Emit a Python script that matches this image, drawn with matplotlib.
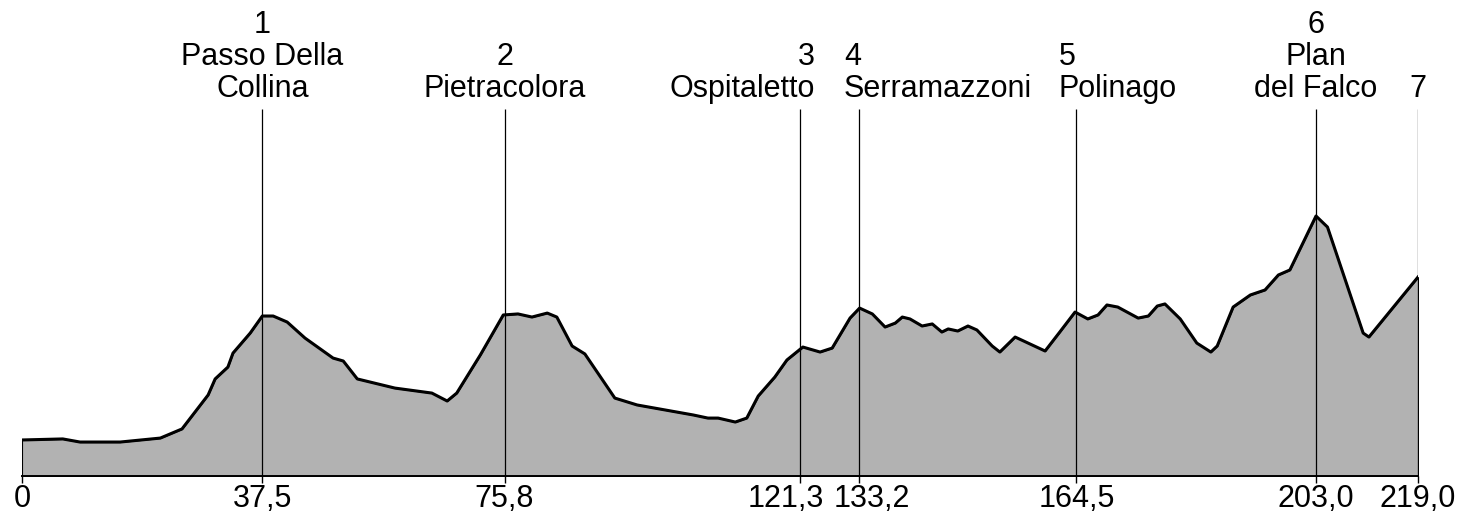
import matplotlib.pyplot as plt
from matplotlib.transforms import blended_transform_factory, ScaledTranslation

plt.rcParams['font.family'] = ['Liberation Sans', 'DejaVu Sans']

# profile: distance (km) and altitude (m)
dist = [0.0, 6.4, 9.1, 15.4, 21.7, 25.1, 29.2, 30.3, 32.3, 33.1, 35.8, 37.7,
        39.4, 41.6, 44.4, 48.8, 50.4, 52.6, 58.5, 64.3, 66.7, 68.2, 71.9, 75.5,
        77.8, 80.0, 82.4, 83.9, 86.3, 88.3, 93.0, 96.5, 105.3, 107.6, 109.2,
        111.9, 113.7, 115.5, 118.1, 120.0, 122.5, 125.2, 127.1, 129.9, 131.4,
        133.4, 135.4, 137.0, 138.1, 139.3, 141.2, 142.8, 144.3, 145.3, 146.8,
        148.4, 149.8, 152.2, 153.4, 155.8, 160.5, 162.8, 165.2, 167.2, 168.8,
        170.2, 171.9, 175.1, 176.7, 178.1, 179.3, 181.7, 184.3, 186.5, 187.5,
        190.0, 192.7, 195.0, 197.1, 198.9, 203.0, 204.8, 210.4, 211.3, 219.0]
alt = [209, 215, 197, 197, 220, 273, 470, 563, 632, 713, 829, 928,
       928, 893, 800, 684, 667, 563, 510, 481, 435, 481, 702, 934,
       940, 922, 945, 922, 754, 708, 452, 412, 354, 336, 336,
       313, 336, 464, 574, 673, 748, 719, 742, 916, 974,
       940, 864, 887, 922, 911, 870, 882, 835, 853, 841,
       870, 847, 754, 719, 806, 725, 835, 951, 911, 934,
       992, 980, 916, 928, 986, 998, 911, 771, 719, 754,
       980, 1050, 1079, 1166, 1195, 1508, 1444, 829, 806, 1154]

# stages
stage_km = [37.7, 75.7, 122.1, 131.3, 165.4, 203.0, 219.0]
stage_names = ['1\nPasso Della\nCollina', '2\nPietracolora', '3\nOspitaletto',
               '4\nSerramazzoni', '5\nPolinago', '6\nPlan\ndel Falco', '7']
tick_labels = ['0', '37,5', '75,8', '121,3', '133,2', '164,5', '203,0', '219,0']

# label alignment per stage
stage_ha = ['center', 'center', 'right', 'left', 'left', 'center', 'center']
stage_dx = [0, 0, 15, -15, -18, 0, 0]
# horizontal nudge of tick labels (pixels)
tick_dx = [0, 0, 0, -15, 13, 0, 0, 0]

fig = plt.figure(figsize=(14.67, 5.31), dpi=100)
ax = fig.add_axes([22 / 1467, 55 / 531, 1396 / 1467, 476 / 531])

ax.fill_between(dist, alt, 0, facecolor='#b2b2b2', edgecolor='black', linewidth=0.8)
ax.plot(dist, alt, color='black', linewidth=2.2, solid_joinstyle='round')

ax.vlines(stage_km, 0, 0.77, transform=ax.get_xaxis_transform(),
          color='black', linewidth=0.9)

trans = blended_transform_factory(ax.transData, fig.transFigure)
for x, name, ha, dx in zip(stage_km, stage_names, stage_ha, stage_dx):
    ax.annotate(name, xy=(x, 0.805), xycoords=trans, xytext=(dx, 0),
                textcoords='offset pixels', ha=ha, va='bottom', multialignment=ha,
                fontsize=22, linespacing=1.07)

ax.set_xlim(0, 219)
ax.set_ylim(0, 2761)
ax.set_xticks([0] + stage_km)
ax.set_xticklabels(tick_labels, fontsize=22)
ax.tick_params(axis='x', length=5, width=1.0, pad=1, color='black')
for lab, dx in zip(ax.get_xticklabels(), tick_dx):
    lab.set_transform(lab.get_transform() + ScaledTranslation(dx / 100, 0, fig.dpi_scale_trans))
ax.set_yticks([])
for s in ['top', 'left', 'right']:
    ax.spines[s].set_visible(False)
ax.spines['bottom'].set_linewidth(1.4)
ax.patch.set_alpha(0)

fig.savefig('out.png', dpi=100)
